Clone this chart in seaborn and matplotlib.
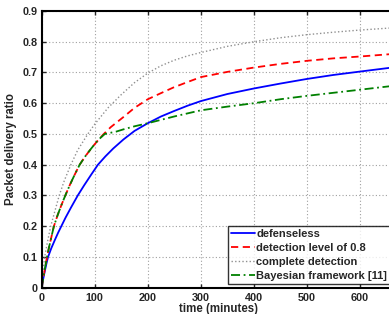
import pandas as pd
import numpy as np
import matplotlib
matplotlib.use("Agg")
import matplotlib.pyplot as plt
import seaborn as sns

# =====================================================
# DATA
# =====================================================

x_blue = [0, 3, 6, 9, 12, 18, 25, 31, 37, 45, 55, 68, 80, 93, 106,
          120, 135, 154, 175, 200, 225, 250, 275, 300, 350, 400, 450,
          500, 550, 600, 660]
y_blue = [0, 0.03, 0.055, 0.079, 0.1, 0.128, 0.156, 0.179, 0.2, 0.228,
          0.26, 0.3, 0.333, 0.367, 0.4, 0.427, 0.453, 0.482, 0.51,
          0.535, 0.557, 0.575, 0.592, 0.607, 0.63, 0.648, 0.664, 0.679,
          0.692, 0.703, 0.716]

x_red = [0, 3, 6, 10, 14, 18, 23, 30, 37, 44.5, 53, 62, 71.5, 82, 93,
         100, 108, 117, 130, 154, 175, 200, 225, 248, 275, 300, 350,
         400, 450, 500, 550, 600, 660]
y_red = [0, 0.032, 0.062, 0.1, 0.133, 0.163, 0.2, 0.236, 0.268, 0.3,
         0.334, 0.367, 0.4, 0.427, 0.452, 0.467, 0.483, 0.5, 0.522,
         0.555, 0.585, 0.613, 0.633, 0.651, 0.669, 0.685, 0.702, 0.716,
         0.728, 0.738, 0.746, 0.752, 0.76]

x_grey = [0, 2.5, 5.6, 11, 17, 25, 33, 43, 55, 68, 87, 100, 125, 150,
          175, 200, 225, 250, 275, 300, 350, 400, 450, 500, 550, 600,
          660]
y_grey = [0, 0.05, 0.1, 0.15, 0.2, 0.25, 0.3, 0.35, 0.4, 0.448, 0.5,
          0.532, 0.585, 0.628, 0.667, 0.698, 0.722, 0.74, 0.754, 0.765,
          0.785, 0.80, 0.813, 0.823, 0.831, 0.838, 0.845]

x_green = [0, 3, 6, 10, 14, 18, 23, 30, 37, 44.5, 53, 62, 71.5, 82, 93,
           100, 108, 119, 141, 154, 175, 200, 250, 300, 350, 400, 450,
           500, 550, 600, 660]
y_green = [0, 0.032, 0.062, 0.1, 0.133, 0.163, 0.2, 0.236, 0.268, 0.3,
           0.334, 0.367, 0.4, 0.427, 0.452, 0.467, 0.483, 0.5, 0.508,
           0.515, 0.525, 0.535, 0.557, 0.577, 0.589, 0.600, 0.613,
           0.624, 0.634, 0.644, 0.656]

labels = [
    "defenseless",
    "detection level of 0.8",
    "complete detection",
    "Bayesian framework [11]",
]

x_ticks = [0, 100, 200, 300, 400, 500, 600]
y_ticks = [0, 0.1, 0.2, 0.3, 0.4, 0.5, 0.6, 0.7, 0.8, 0.9]

# =====================================================
# STYLE
# =====================================================

sns.set_style("ticks")
plt.rcParams["font.family"] = ["Liberation Sans", "DejaVu Sans"]
plt.rcParams["font.weight"] = "bold"

fig = plt.figure(figsize=(3.89, 3.14), dpi=100)

# axes run a little past the right edge of the picture
ax = fig.add_axes([41.7 / 389, 26.3 / 314, (395 - 41.7) / 389, 276.7 / 314])

series = [
    (x_blue, y_blue, "#0000ff", "-", 1.3),
    (x_red, y_red, "#ff0000", (0, (4, 2.5)), 1.3),
    (x_grey, y_grey, "#909090", (0, (1, 1.6)), 1.0),
    (x_green, y_green, "#008000", (0, (5, 2, 1, 2)), 1.3),
]

for (xs, ys, col, ls, lw), lab in zip(series, labels):

    df = pd.DataFrame({"x": xs, "y": ys})

    sns.lineplot(
        data=df,
        x="x",
        y="y",
        color=col,
        linestyle=ls,
        linewidth=lw,
        label=lab,
        sort=False,
        estimator=None,
        ax=ax,
    )

ax.set_xlim(0, 666)
ax.set_ylim(0, 0.9)

ax.set_xticks(x_ticks)
ax.set_yticks(y_ticks)
ax.set_xticklabels([str(t) for t in x_ticks])
ax.set_yticklabels(["0"] + [f"{t:.1f}" for t in y_ticks[1:]])

ax.grid(True, color="#a0a0a0", linestyle=(0, (1, 2)), linewidth=0.8)

ax.tick_params(
    direction="in",
    top=True,
    right=True,
    length=3,
    width=1,
    labelsize=7.8,
)
ax.tick_params(axis="x", pad=4)
ax.tick_params(axis="y", pad=3)
for lab in ax.get_xticklabels() + ax.get_yticklabels():
    lab.set_fontweight("bold")

for sp in ax.spines.values():
    sp.set_linewidth(1.5)
    sp.set_color("black")

ax.set_xlabel("time (minutes)", fontsize=8.3, fontweight="bold", labelpad=0)
ax.set_ylabel("Packet delivery ratio", fontsize=8.3, fontweight="bold",
              labelpad=4)

leg = ax.legend(
    loc="lower left",
    bbox_to_anchor=(228 / 389, 30 / 314),
    bbox_transform=fig.transFigure,
    fontsize=8,
    frameon=True,
    fancybox=False,
    handlelength=2.1,
    handletextpad=0.15,
    labelspacing=0.34,
    borderpad=0.3,
    borderaxespad=0,
)
leg.get_frame().set_edgecolor("black")
leg.get_frame().set_linewidth(1.0)
for t in leg.get_texts():
    t.set_fontweight("bold")

fig.savefig("out.png", dpi=100)
plt.close()
